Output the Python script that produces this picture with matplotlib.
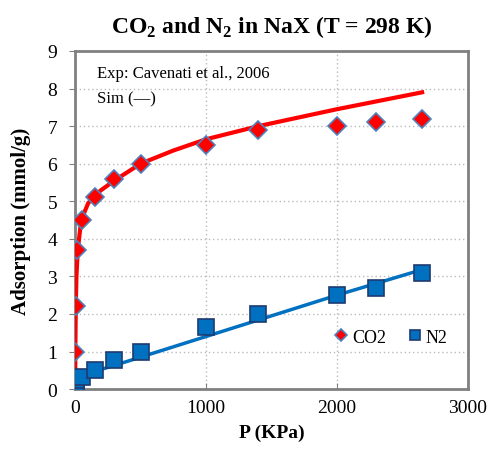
import numpy as np
import matplotlib.pyplot as plt

plt.rcParams['font.family'] = ['Liberation Serif', 'DejaVu Serif']
plt.rcParams['mathtext.fontset'] = 'custom'
plt.rcParams['mathtext.rm'] = 'Liberation Serif'
plt.rcParams['mathtext.bf'] = 'Liberation Serif:bold'

# experimental points
co2_p = [0, 5, 15, 50, 150, 300, 500, 1000, 1400, 2000, 2300, 2650]
co2_q = [1.0, 2.2, 3.7, 4.5, 5.1, 5.6, 6.0, 6.5, 6.9, 7.0, 7.1, 7.2]
n2_p = [0, 5, 10, 50, 150, 300, 500, 1000, 1400, 2000, 2300, 2650]
n2_q = [0.05, 0.15, 0.25, 0.32, 0.5, 0.78, 0.98, 1.65, 2.0, 2.5, 2.7, 3.1]

# simulation curves
sim_co2_p = [0, 2, 5, 10, 20, 40, 70, 100, 150, 200, 300, 500, 750, 1000, 1400, 2000, 2650]
sim_co2_q = [0, 1.2, 2.2, 3.0, 3.7, 4.3, 4.7, 4.95, 5.15, 5.3, 5.55, 6.0, 6.35, 6.65, 7.0, 7.45, 7.9]
sim_n2_p = [0, 20, 50, 100, 300, 500, 1000, 1500, 2000, 2650]
sim_n2_q = [0.0, 0.2, 0.33, 0.42, 0.63, 0.85, 1.4, 1.95, 2.5, 3.18]

fig = plt.figure(figsize=(4.91, 4.6), dpi=100)
ax = fig.add_axes([0.153, 0.152, 0.800, 0.735])

ax.plot(sim_co2_p, sim_co2_q, color='#ff0000', lw=3, zorder=3)
ax.plot(sim_n2_p, sim_n2_q, color='#0070c0', lw=2.5, zorder=3)
ax.plot(co2_p, co2_q, 'D', ms=9, color='#ff0000', mec='#4f81bd', mew=1.2,
        ls='none', label='CO2', zorder=4)
ax.plot(n2_p, n2_q, 's', ms=11, color='#0070c0', mec='#1f3a70', mew=1.2,
        ls='none', label='N2', zorder=4)

ax.set_xlim(0, 3000)
ax.set_ylim(0, 9)
ax.set_xticks([0, 1000, 2000, 3000])
ax.set_yticks(range(10))
ax.grid(True, ls=(0, (1, 2)), color='#bbbbbb', lw=1)
ax.set_axisbelow(True)
for s in ax.spines.values():
    s.set_color('#808080')
    s.set_linewidth(2)
ax.tick_params(axis='y', direction='out', length=4, color='#808080', labelsize=14, pad=9)
ax.tick_params(axis='x', direction='in', length=4, color='#808080', labelsize=14, pad=7)

ax.set_xlabel('P (KPa)', fontsize=14, fontweight='bold', labelpad=6)
ax.set_ylabel('Adsorption (mmol/g)', fontsize=15, fontweight='bold', labelpad=12)
ax.set_title(r'CO$_\mathbf{2}$ and N$_\mathbf{2}$ in NaX (T = 298 K)', fontsize=17,
             fontweight='bold', pad=14)

ax.text(0.055, 0.935, 'Exp: Cavenati et al., 2006', transform=ax.transAxes,
        fontsize=12, va='center')
ax.text(0.055, 0.86, 'Sim (\u2014)', transform=ax.transAxes, fontsize=12, va='center')

leg = ax.legend(loc='lower right', bbox_to_anchor=(0.99, 0.08), ncol=2, frameon=False,
                fontsize=13, handlelength=0.8, handletextpad=0.2, columnspacing=1.2,
                markerscale=0.7)

fig.savefig('out.png', dpi=100)
